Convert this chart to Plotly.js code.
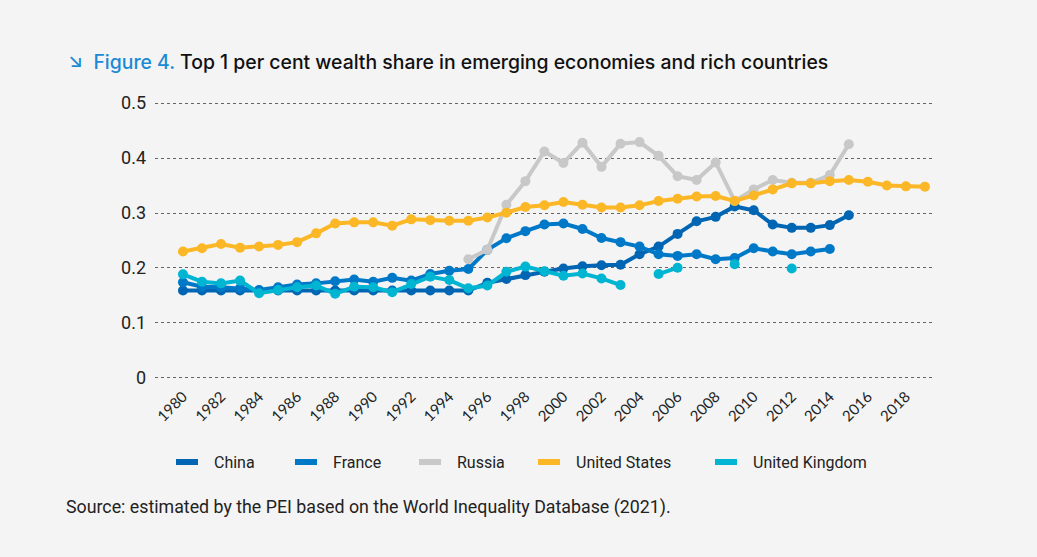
<!DOCTYPE html>
<html>
<head>
<meta charset="utf-8">
<script src="https://cdn.plot.ly/plotly-3.0.1.min.js"></script>
<style>
html,body{margin:0;padding:0;background:#f4f4f4;}
#chart{width:1037px;height:557px;}
</style>
</head>
<body>
<div id="chart"></div>
<script>
const years = [];
for (let y = 1980; y <= 2019; y++) years.push(y);

const china = [0.159,0.159,0.159,0.159,0.159,0.159,0.159,0.159,0.159,0.159,
  0.159,0.159,0.159,0.159,0.159,0.159,0.173,0.180,0.187,0.193,
  0.199,0.203,0.205,0.206,0.225,0.239,0.262,0.285,0.293,0.312,
  0.305,0.279,0.273,0.273,0.278,0.296,null,null,null,null];
const france = [0.174,0.166,0.165,0.163,0.160,0.165,0.170,0.172,0.176,0.179,
  0.175,0.182,0.177,0.189,0.195,0.198,0.233,0.254,0.267,0.279,
  0.281,0.271,0.2545,0.247,0.239,0.225,0.222,0.225,0.216,0.218,
  0.236,0.230,0.225,0.230,0.2345,null,null,null,null,null];
const russia = [null,null,null,null,null,null,null,null,null,null,
  null,null,null,null,null,0.216,0.233,0.315,0.358,0.412,
  0.391,0.428,0.384,0.426,0.429,0.404,0.367,0.360,0.392,0.322,
  0.343,0.360,0.355,0.355,0.369,0.425,null,null,null,null];
const unitedStates = [0.230,0.236,0.2436,0.237,0.239,0.242,0.247,0.263,0.281,0.283,
  0.283,0.277,0.2885,0.287,0.286,0.286,0.292,0.3006,0.311,0.314,
  0.320,0.315,0.310,0.310,0.314,0.322,0.326,0.330,0.331,0.322,
  0.332,0.343,0.354,0.354,0.358,0.360,0.357,0.350,0.3485,0.348];
const unitedKingdom = [0.1885,0.175,0.172,0.177,0.154,0.160,0.165,0.168,0.153,0.166,
  0.165,0.156,0.171,0.184,0.178,0.163,0.168,0.193,0.2025,0.194,
  0.186,0.190,0.181,0.169,null,0.189,0.2005,null,null,0.207,
  null,null,0.199,null,null,null,null,null,null,null];

const seriesNames = ['China','France','Russia','United States','United Kingdom'];
const seriesData = [china, france, russia, unitedStates, unitedKingdom];
const seriesColors = ['#0066b3','#0078c8','#c8c8c8','#fbb725','#00b5d1'];
const yTickVals = [0, 0.1, 0.2, 0.3, 0.4, 0.5];
const yTickText = ['0', '0.1', '0.2', '0.3', '0.4', '0.5'];

const traces = seriesData.map((d, i) => ({
  type: 'scatter', mode: 'lines+markers', x: years, y: d,
  name: seriesNames[i], showlegend: false,
  line: {color: seriesColors[i], width: 4},
  marker: {color: seriesColors[i], size: 10},
  connectgaps: false, hoverinfo: 'skip'
}));

// Legend (drawn as paper-referenced swatches and labels)
const W = 1037, H = 557, ML = 155, MR = 102, MT = 102, MB = 178;
const PW = W - ML - MR, PH = H - MT - MB;
const px = v => (v - ML) / PW;
const py = v => (H - MB - v) / PH;
const legendSwatchX = [176, 295, 419, 538, 715];
const legendY = 462;
const shapes = [];
const annotations = [];
seriesNames.forEach((n, i) => {
  shapes.push({
    type: 'rect', xref: 'paper', yref: 'paper',
    x0: px(legendSwatchX[i]), x1: px(legendSwatchX[i] + 22),
    y0: py(legendY + 3), y1: py(legendY - 3),
    fillcolor: seriesColors[i], line: {width: 0}
  });
  annotations.push({
    text: n, xref: 'paper', yref: 'paper',
    x: px(legendSwatchX[i] + 36), xanchor: 'left',
    y: py(legendY), yanchor: 'middle', showarrow: false,
    font: {family: 'Roboto, sans-serif', size: 16, color: '#222'}
  });
});
annotations.push({
  text: 'Source: estimated by the PEI based on the World Inequality Database (2021).',
  xref: 'paper', yref: 'paper', x: px(64), xanchor: 'left',
  y: py(507), yanchor: 'middle', showarrow: false,
  font: {family: 'Roboto, sans-serif', size: 17.8, color: '#222'}
});

const layout = {
  width: W, height: H,
  paper_bgcolor: '#f4f4f4', plot_bgcolor: '#f4f4f4',
  margin: {l: ML, r: MR, t: MT, b: MB},
  font: {family: 'Roboto, "Open Sans", sans-serif', color: '#222'},
  showlegend: false,
  title: {
    text: '<span style="color:#1a8ad4">↘  Figure 4.</span> Top 1 per cent wealth share in emerging economies and rich countries',
    x: 68/W, xanchor: 'left', y: 1 - 62/H, yanchor: 'middle',
    font: {family: 'Inter, Roboto, sans-serif', size: 19.4, color: '#111', weight: 500}
  },
  xaxis: {
    range: [1978.53, 2019.53], tickmode: 'linear', tick0: 1980, dtick: 2,
    tickangle: -45, showgrid: false, zeroline: false, showline: false,
    ticks: '', ticklabelstandoff: 5,
    tickfont: {family: 'Lato, "Open Sans", sans-serif', size: 15, color: '#222'}
  },
  yaxis: {
    range: [-0.002, 0.502], tickmode: 'array', tickvals: yTickVals,
    ticktext: yTickText,
    showgrid: true, gridcolor: '#666', griddash: 'dot', gridwidth: 1,
    zeroline: false, showline: false, ticks: '', ticklabelstandoff: 8,
    tickfont: {family: 'Roboto, sans-serif', size: 18, color: '#222'}
  },
  shapes: shapes,
  annotations: annotations
};

Plotly.newPlot('chart', traces, layout, {staticPlot: true, displayModeBar: false});
</script>
</body>
</html>
